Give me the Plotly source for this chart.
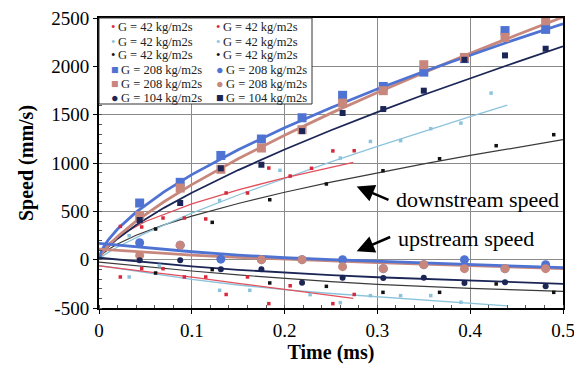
import plotly.graph_objects as go

# ---------------- data ----------------
# time bases (ms)
t_big = [0.0438, 0.0875, 0.1313, 0.175, 0.2188, 0.2625, 0.3063, 0.35, 0.3938, 0.4375, 0.4813]
t_red = [0.023, 0.046, 0.069, 0.092, 0.115, 0.137, 0.160, 0.183, 0.206, 0.229, 0.252, 0.275]
t_lb = [0.0325, 0.065, 0.0975, 0.13, 0.1625, 0.195, 0.2275, 0.26, 0.2925, 0.325, 0.3575, 0.39, 0.4225]
t_blk = [0.061, 0.122, 0.184, 0.245, 0.306, 0.367, 0.428, 0.490]

# downstream speeds (mm/s)
blue_down = [586, 800, 1078, 1248, 1468, 1700, 1792, 1940, 2080, 2370, 2382]
rosy_down = [455, 741, 935, 1155, 1344, 1620, 1748, 2017, 2092, 2299, 2472]
navy_down = [410, 586, 945, 982, 1330, 1517, 1558, 1748, 2068, 2113, 2182]
red_down = [344, 338, 431, 431, 421, 690, 690, 948, 865, 945, 1125, 1127]
lb_down = [248, None, None, 613, None, 924, None, 1051, 1223, 1231, 1355, 1413, 1723]
black_down = [317, 386, 620, 783, 920, 1044, 1179, 1293]

# upstream speeds (mm/s)
blue_up = [175, 150, 5, 0, 0, 0, -93, -52, 0, -93, -52]
rosy_up = [44, 150, None, 0, 0, -72, -93, -52, -93, -93, -93]
navy_up = [-7, -7, -100, -100, -238, -186, -190, -186, -241, -234, -276]
red_up = [-179, -93, -93, -179, -179, -360, -179, -455, -270, None, -455, -360]
lb_up = [-179, -60, None, -317, -317, None, -362, -445, -372, -372, -372, -441, None]
black_up = [-138, -103, -241, -276, -338, -338, -251, -338]

# trend lines
fit_t = [0, 0.002, 0.005, 0.01, 0.02, 0.04, 0.07, 0.1, 0.15, 0.2, 0.25, 0.3, 0.35, 0.4, 0.45, 0.5]
fit_blue_down = [0, 74, 132, 204, 317, 492, 702, 880, 1137, 1365, 1572, 1766, 1947, 2118, 2282, 2440]
fit_rosy_down = [0, 45, 87, 145, 240, 398, 599, 776, 1044, 1287, 1516, 1730, 1935, 2134, 2324, 2510]
fit_navy_down = [0, 41, 80, 132, 217, 358, 536, 692, 927, 1140, 1339, 1527, 1706, 1879, 2044, 2206]
fit_black_down = [0, 38, 68, 106, 163, 253, 360, 450, 581, 697, 802, 899, 991, 1078, 1161, 1241]
fit_red_t = [0, 0.002, 0.005, 0.01, 0.02, 0.05, 0.1, 0.15, 0.2, 0.274]
fit_red_down = [0, 67, 111, 163, 238, 395, 578, 722, 846, 1006]
fit_lb_t = [0, 0.002, 0.005, 0.01, 0.02, 0.05, 0.1, 0.15, 0.2, 0.25, 0.3, 0.35, 0.4, 0.44]
fit_lb_down = [0, 20, 43, 75, 131, 275, 482, 669, 844, 1011, 1172, 1329, 1480, 1599]

fit_up_t = [0, 0.05, 0.1, 0.15, 0.2, 0.25, 0.3, 0.35, 0.4, 0.45, 0.5]
fit_blue_up = [168, 122, 82, 48, 20, 0, -18, -35, -51, -67, -82]
fit_rosy_up = [110, 77, 48, 24, 4, -14, -30, -45, -60, -76, -92]
fit_navy_up = [20, -28, -70, -105, -135, -160, -182, -200, -218, -234, -250]
fit_black_up = [-25, -72, -117, -158, -195, -228, -255, -278, -297, -313, -328]
fit_red_up_t = [0, 0.05, 0.1, 0.15, 0.2, 0.25, 0.274]
fit_red_up = [-65, -120, -180, -245, -305, -365, -400]
fit_lb_up_t = [0, 0.05, 0.1, 0.15, 0.2, 0.25, 0.3, 0.35, 0.4, 0.44]
fit_lb_up = [-60, -135, -205, -262, -310, -350, -385, -420, -450, -478]

x_ticks = [0, 0.1, 0.2, 0.3, 0.4, 0.5]
y_ticks = [-500, 0, 500, 1000, 1500, 2000, 2500]
y_tick_labels = ["-500", "0", "500", "1000", "1500", "2000", "2500"]

legend_left = ["G = 42 kg/m2s", "G = 42 kg/m2s", "G = 42 kg/m2s",
               "G = 208 kg/m2s", "G = 208 kg/m2s", "G = 104 kg/m2s"]
legend_right = ["G = 42 kg/m2s", "G = 42 kg/m2s", "G = 42 kg/m2s",
                "G = 208 kg/m2s", "G = 208 kg/m2s", "G = 104 kg/m2s"]

# ---------------- styles ----------------
BLUE = "#4f73d3"
ROSY = "#c8877c"
NAVY = "#1b2656"
RED = "#d8283c"
REDL = "#e2505c"
LB = "#8cc3dc"
BLK = "#111111"
BLKL = "#3a3a3a"
FONT = "Liberation Serif, Times New Roman, DejaVu Serif, serif"

fig = go.Figure()

def line(t, v, color, width):
    fig.add_trace(go.Scatter(x=t, y=v, mode="lines", line=dict(color=color, width=width),
                             showlegend=False, hoverinfo="skip"))

def pts(t, v, color, symbol, size, name):
    fig.add_trace(go.Scatter(x=t, y=v, mode="markers", name=name,
                             marker=dict(color=color, symbol=symbol, size=size, line=dict(width=0)),
                             showlegend=False))

# fit lines
line(fit_t, fit_black_down, BLKL, 1.2)
line(fit_lb_t, fit_lb_down, LB, 1.3)
line(fit_red_t, fit_red_down, REDL, 1.3)
line(fit_t, fit_navy_down, NAVY, 1.8)
line(fit_t, fit_rosy_down, ROSY, 2.8)
line(fit_t, fit_blue_down, BLUE, 2.8)
line(fit_up_t, fit_black_up, BLKL, 1.2)
line(fit_lb_up_t, fit_lb_up, LB, 1.3)
line(fit_red_up_t, fit_red_up, REDL, 1.3)
line(fit_up_t, fit_navy_up, NAVY, 1.8)
line(fit_up_t, fit_rosy_up, ROSY, 2.8)
line(fit_up_t, fit_blue_up, BLUE, 2.8)

# markers
pts(t_red, red_down, RED, "square", 3.5, "G = 42 kg/m2s")
pts(t_red, red_up, RED, "square", 3.5, "G = 42 kg/m2s")
pts(t_lb, lb_down, LB, "square", 3.5, "G = 42 kg/m2s")
pts(t_lb, lb_up, LB, "square", 3.5, "G = 42 kg/m2s")
pts(t_blk, black_down, BLK, "square", 3.5, "G = 42 kg/m2s")
pts(t_blk, black_up, BLK, "square", 3.5, "G = 42 kg/m2s")
pts(t_big, blue_down, BLUE, "square", 9, "G = 208 kg/m2s")
pts(t_big, blue_up, BLUE, "circle", 9, "G = 208 kg/m2s")
pts(t_big, rosy_down, ROSY, "square", 9, "G = 208 kg/m2s")
pts(t_big, rosy_up, ROSY, "circle", 9, "G = 208 kg/m2s")
pts(t_big, navy_up, NAVY, "circle", 6, "G = 104 kg/m2s")
pts(t_big, navy_down, NAVY, "square", 6, "G = 104 kg/m2s")

# ---------------- layout ----------------
W, H = 574, 375
ML, MR, MT, MB = 99, 11, 18, 67
PW, PH = W - ML - MR, H - MT - MB

fig.update_layout(
    width=W, height=H,
    margin=dict(l=ML, r=MR, t=MT, b=MB, pad=0),
    paper_bgcolor="white", plot_bgcolor="white",
    font=dict(family=FONT, size=19, color="black"),
    showlegend=False,
)
fig.update_xaxes(
    range=[0, 0.5], tickvals=x_ticks, showgrid=True, gridcolor="#8a8a8a", gridwidth=1,
    showline=True, linecolor="black", linewidth=2, mirror=True,
    ticks="outside", ticklen=4, tickcolor="black", automargin=False,
    ticklabeloverflow="allow",
    minor=dict(dtick=0.02, ticks="inside", ticklen=3, tickcolor="#555", showgrid=False),
    zeroline=False, tickfont=dict(family=FONT, size=19),
    title=dict(text="<b>Time (ms)</b>", font=dict(family=FONT, size=20), standoff=5),
)
fig.update_yaxes(
    range=[-500, 2500], tickvals=y_ticks, ticktext=y_tick_labels,
    showgrid=True, gridcolor="#8a8a8a", gridwidth=1,
    showline=True, linecolor="black", linewidth=2, mirror=True,
    ticks="outside", ticklen=4, tickcolor="black", automargin=False,
    ticklabeloverflow="allow",
    minor=dict(dtick=100, ticks="inside", ticklen=3, tickcolor="#555", showgrid=False),
    zeroline=False, tickfont=dict(family=FONT, size=19),
    title=dict(text="<b>Speed (mm/s)</b>", font=dict(family=FONT, size=20), standoff=12),
)

# legend box (drawn as annotations over a white box)
box_right_px, box_bottom_px = 312, 104
fig.add_shape(type="rect", xref="paper", yref="paper", layer="above",
              x0=0, x1=(box_right_px - ML) / PW, y0=(MT + PH - box_bottom_px) / PH, y1=1,
              fillcolor="white", line=dict(color="#333", width=1))

row_px = [27, 41.5, 55.5, 70, 84, 98]
left_syms = [("•", RED), ("•", LB), ("•", BLK), ("■", BLUE), ("■", ROSY), ("●", NAVY)]
right_syms = [("•", RED), ("•", LB), ("•", BLK), ("●", BLUE), ("●", ROSY), ("■", NAVY)]
for i, ypx in enumerate(row_px):
    yp = (MT + PH - ypx) / PH
    for xpx, labels, syms in ((109, legend_left, left_syms), (214, legend_right, right_syms)):
        g, c = syms[i]
        fig.add_annotation(
            xref="paper", yref="paper", x=(xpx - ML) / PW, y=yp, xanchor="left", yanchor="middle",
            text=f'<span style="color:{c}">{g}</span>\u2009{labels[i]}', showarrow=False,
            font=dict(family=FONT, size=12.5, color="#222"))

# arrows and labels
fig.add_annotation(x=0.2777, y=758, ax=0.3136, ay=613, axref="x", ayref="y", text="",
                   showarrow=True, arrowhead=2, arrowsize=1.4, arrowwidth=2.5, arrowcolor="black")
fig.add_annotation(x=0.2777, y=86, ax=0.3154, ay=241, axref="x", ayref="y", text="",
                   showarrow=True, arrowhead=2, arrowsize=1.4, arrowwidth=2.5, arrowcolor="black")
fig.add_annotation(x=0.4078, y=620, text="downstream speed", showarrow=False,
                   font=dict(family=FONT, size=22, color="black"))
fig.add_annotation(x=0.395, y=224, text="upstream speed", showarrow=False,
                   font=dict(family=FONT, size=22, color="black"))

fig.write_html("out.html", config={"displayModeBar": False},
               post_script="document.body.style.margin='0px';")
